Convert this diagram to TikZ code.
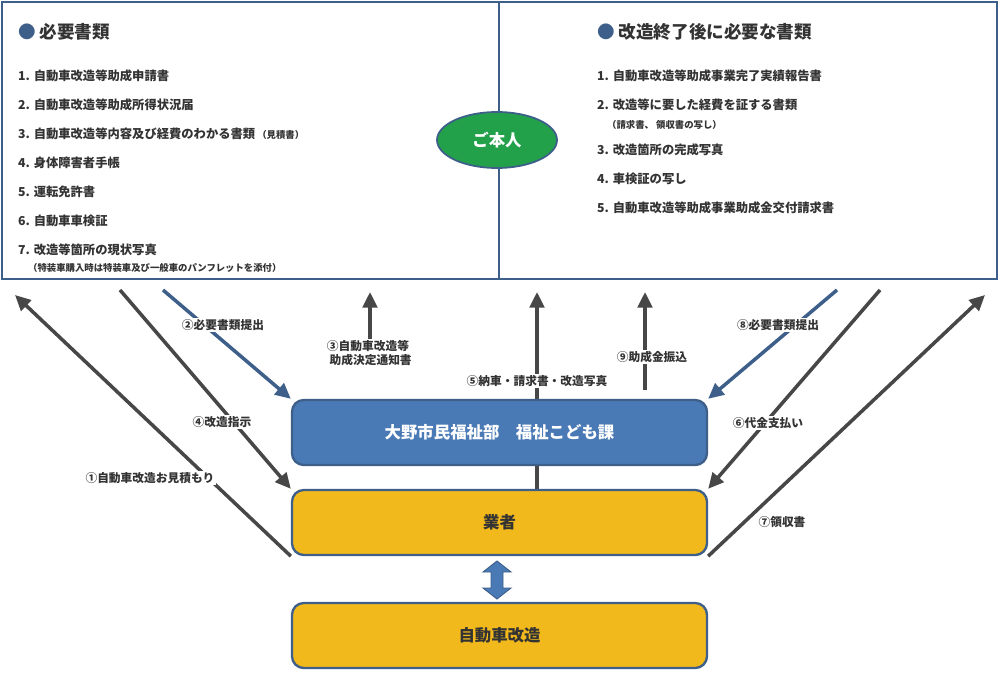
\documentclass[tikz,border=0pt]{standalone}
\usepackage{fontspec}
\setmainfont{Noto Sans CJK JP}
\usetikzlibrary{arrows.meta,shapes.geometric}
\definecolor{frameblue}{HTML}{3E5F8A}
\definecolor{officeblue}{HTML}{4A7AB5}
\definecolor{tradegold}{HTML}{F2B91C}
\definecolor{selfgreen}{HTML}{22A04A}
\definecolor{textgray}{HTML}{333333}
\tikzset{
  panel/.style={draw=frameblue, line width=2pt},
  unit/.style={draw=frameblue, line width=2pt, rounded corners=10pt, minimum width=12.45cm, minimum height=1.95cm, font=\bfseries\fontsize{14}{16}\selectfont},
  flow/.style={draw=textgray!90, line width=3pt, -{Triangle[length=14mm/3, width=13mm/3]}},
  bflow/.style={draw=frameblue, line width=3pt, -{Triangle[length=14mm/3, width=13mm/3]}},
  tag/.style={fill=white, inner sep=1pt, text=textgray, font=\bfseries\fontsize{10}{12}\selectfont, align=left},
  item/.style={anchor=west, text=textgray, font=\bfseries\fontsize{10.5}{12}\selectfont, inner sep=0pt},
  note/.style={anchor=west, text=textgray, font=\bfseries\fontsize{8}{10}\selectfont, inner sep=0pt},
  heading/.style={anchor=west, text=textgray, font=\bfseries\fontsize{15}{18}\selectfont, inner sep=0pt}
}
\begin{document}
\begin{tikzpicture}[x=0.3mm, y=-0.3mm]
		\useasboundingbox (0,0) rectangle (1000,673);

		% Define the panels
		\draw[panel] (2,2) rectangle (499,279);
		\draw[panel] (499,2) rectangle (997,279);

		% Left panel texts
		\node[heading] (needed) at (18,32) {\textcolor{frameblue}{●}\ 必要書類};
		\node[item] (l1) at (18,76) {1. 自動車改造等助成申請書};
		\node[item] (l2) at (18,105) {2. 自動車改造等助成所得状況届};
		\node[item] (l3) at (18,134) {3. 自動車改造等内容及び経費のわかる書類\,{\fontsize{8}{10}\selectfont（見積書）}};
		\node[item] (l4) at (18,163) {4. 身体障害者手帳};
		\node[item] (l5) at (18,192) {5. 運転免許書};
		\node[item] (l6) at (18,221) {6. 自動車車検証};
		\node[item] (l7) at (18,250) {7. 改造等箇所の現状写真};
		\node[note] (l7n) at (28,268) {（特装車購入時は特装車及び一般車のパンフレットを添付）};

		% Right panel texts
		\node[heading] (after) at (597,32) {\textcolor{frameblue}{●}\ 改造終了後に必要な書類};
		\node[item] (r1) at (597,76) {1. 自動車改造等助成事業完了実績報告書};
		\node[item] (r2) at (597,105) {2. 改造等に要した経費を証する書類};
		\node[note] (r2n) at (607,125) {（請求書、 領収書の写し）};
		\node[item] (r3) at (597,150) {3. 改造箇所の完成写真};
		\node[item] (r4) at (597,179) {4. 車検証の写し};
		\node[item] (r5) at (597,208) {5. 自動車改造等助成事業助成金交付請求書};

		% Define the nodes
		\node[ellipse, draw=frameblue, line width=1.5pt, fill=selfgreen, minimum width=3.6cm, minimum height=1.68cm, text=white, font=\bfseries\fontsize{14}{16}\selectfont] (self) at (497,140) {ご本人};
		\coordinate (up1) at (15,295);
		\coordinate (up3) at (370,292);
		\coordinate (up5) at (537,292);
		\coordinate (up9) at (645,292);
		\coordinate (up7) at (985,295);
		\coordinate (down4) at (120,290);
		\coordinate (down2) at (163,290);
		\coordinate (down8) at (837,290);
		\coordinate (down6) at (880,290);
		\coordinate (from3) at (370,362);
		\coordinate (from9) at (645,390);

		% Define the edges drawn below the boxes
		\draw[flow] (537,490) -- (up5);

		\node[unit, fill=officeblue, text=white] (office) at (499.5,432.5) {大野市民福祉部\quad 福祉こども課};
		\node[unit, fill=tradegold, text=textgray] (trader) at (499.5,522.5) {業者};
		\node[unit, fill=tradegold, text=textgray] (remodel) at (499.5,635.5) {自動車改造};
		\draw[frameblue, fill=officeblue, line width=0.8pt] (497,561) -- (511,572) -- (503,572) -- (503,588) -- (511,588) -- (497,599) -- (483,588) -- (491,588) -- (491,572) -- (483,572) -- cycle;

		% Define the edges
		\draw[flow] (trader.south west) -- (up1);
		\draw[flow] (down4) -- (trader.north west);
		\draw[bflow] (down2) -- (office.north west);
		\draw[flow] (from3) -- (up3);
		\draw[flow] (from9) -- (up9);
		\draw[bflow] (down8) -- (office.north east);
		\draw[flow] (down6) -- (trader.north east);
		\draw[flow] (trader.south east) -- (up7);

		% Add labels for the flows
		\node[tag] at (150,478) {①自動車改造お見積もり};
		\node[tag] at (223,325) {②必要書類提出};
		\node[tag, align=center] at (368,353) {③自動車改造等\\\ \ 助成決定通知書};
		\node[tag] at (222,422) {④改造指示};
		\node[tag] at (537,381) {⑤納車・請求書・改造写真};
		\node[tag] at (768,423) {⑥代金支払い};
		\node[tag] at (782,522) {⑦領収書};
		\node[tag] at (778,325) {⑧必要書類提出};
		\node[tag] at (652,357) {⑨助成金振込};

	\end{tikzpicture}
\end{document}
